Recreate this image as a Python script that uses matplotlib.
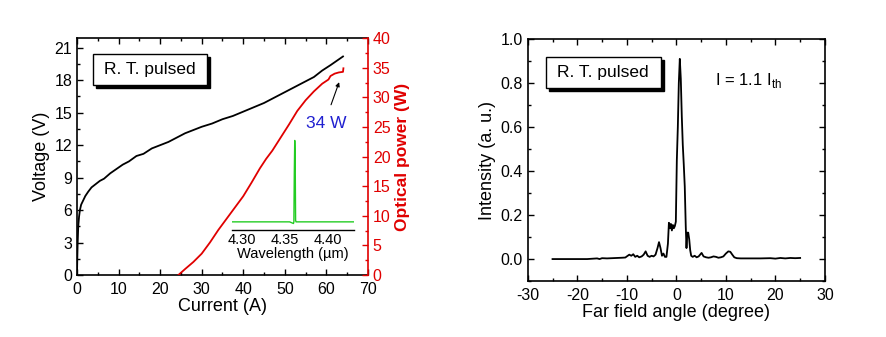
import matplotlib
matplotlib.use("Agg")
import matplotlib.pyplot as plt
import matplotlib.transforms as mtransforms
from matplotlib.patches import Rectangle
from matplotlib.ticker import MultipleLocator

plt.rcParams['font.family'] = ['Liberation Sans', 'DejaVu Sans']
plt.rcParams['axes.unicode_minus'] = False

# ---- data: L-I-V ----
current_v = [0, 0.05, 0.15, 0.3, 0.5, 0.7, 1.0, 1.5, 2.0, 2.7, 3.5, 4.5, 5.5, 6.5, 8, 9.5, 11,
             12.5, 14.3, 16, 18, 20, 22, 24, 26, 28, 30, 32.5, 35, 37.5, 40, 42.5, 45, 47.5,
             50, 52.5, 55, 57, 59, 61, 62.5, 64]
voltage = [0, 1.1, 2.8, 4.5, 5.4, 6.0, 6.5, 6.9, 7.3, 7.7, 8.1, 8.4, 8.7, 8.9, 9.4, 9.8, 10.2,
           10.5, 11.0, 11.2, 11.7, 12.0, 12.3, 12.7, 13.1, 13.4, 13.7, 14.0, 14.4, 14.7, 15.1,
           15.5, 15.9, 16.4, 16.9, 17.4, 17.9, 18.3, 18.9, 19.4, 19.8, 20.2]
current_p = [24.4, 26, 28, 30, 32, 34, 36, 38, 40, 42, 44, 45.5, 47, 49, 51, 53, 55, 57, 59,
             60.5, 61, 62, 63, 64, 64.1]
power = [0, 1.0, 2.2, 3.6, 5.5, 7.6, 9.5, 11.4, 13.3, 15.6, 18.0, 19.6, 21.0, 23.2, 25.4,
         27.7, 29.5, 31.0, 32.3, 33.0, 33.6, 34.0, 34.2, 34.3, 34.9]

# ---- data: spectrum inset ----
wavelength = [4.288, 4.355, 4.3595, 4.3600, 4.3605, 4.3610, 4.3615, 4.3620, 4.3625, 4.430]
spec_int = [0, 0, -0.02, 0.0, 0.6, 1.0, 0.8, 0.02, 0, 0]

# ---- data: far field ----
ff_angle = [-25, -22, -18, -16, -15.5, -15, -14, -12, -11, -10.3, -10, -9.5, -9.1, -8.7, -8.3,
            -7.9, -7.5, -7.0, -6.6, -6.2, -5.8, -5.4, -5.0, -4.6, -4.2, -3.8, -3.5, -3.2, -2.9,
            -2.6, -2.3, -2.0, -1.7, -1.5, -1.3, -1.1, -0.9, -0.7, -0.5, -0.3, -0.1, 0.1, 0.3,
            0.5, 0.7, 0.9, 1.1, 1.3, 1.5, 1.7, 1.9, 2.05, 2.2, 2.4, 2.6, 2.8, 3.0, 3.3, 3.7,
            4.1, 4.5, 4.8, 5.1, 5.5, 6.0, 6.5, 7.0, 7.5, 8.0, 8.5, 9.0, 9.5, 10.0, 10.5, 10.9,
            11.3, 11.7, 12.2, 13, 15, 17, 19, 20, 21, 22, 23, 24, 25]
ff_int = [0.0, 0.0, 0.0, 0.003, 0.0, 0.004, 0.003, 0.005, 0.006, 0.007, 0.012, 0.02, 0.015,
          0.022, 0.01, 0.015, 0.008, 0.012, 0.02, 0.035, 0.015, 0.01, 0.015, 0.012, 0.02, 0.05,
          0.077, 0.05, 0.015, 0.025, 0.01, 0.01, 0.07, 0.165, 0.14, 0.16, 0.13, 0.155, 0.14,
          0.15, 0.17, 0.45, 0.6, 0.8, 0.91, 0.82, 0.65, 0.52, 0.43, 0.33, 0.15, 0.05, 0.12,
          0.12, 0.09, 0.04, 0.015, 0.01, 0.015, 0.008, 0.012, 0.02, 0.028, 0.012, 0.008, 0.006,
          0.008, 0.012, 0.01, 0.006, 0.008, 0.012, 0.025, 0.035, 0.033, 0.02, 0.008, 0.004,
          0.003, 0.003, 0.003, 0.004, 0.002, 0.005, 0.003, 0.005, 0.004, 0.005]

RED = '#e00000'
TICK_FS = 11.5
LABEL_FS = 13
fig = plt.figure(figsize=(8.87, 3.37), dpi=100)

def style_ticks(ax, **kw):
    ax.tick_params(which='major', direction='in', length=4, width=1.0, labelsize=TICK_FS, **kw)
    ax.tick_params(which='minor', direction='in', length=2.5, width=1.0, **kw)
    ax.tick_params(axis='x', which='major', pad=5)

def shadow_box(ax, x0, y0, x1, y1, s):
    shadow_tr = ax.transAxes + mtransforms.ScaledTranslation(3 / 100, -3 / 100,
                                                                fig.dpi_scale_trans)
    ax.add_patch(Rectangle((x0, y0), x1 - x0, y1 - y0, transform=shadow_tr,
                           fc='black', ec='black', lw=1.0, zorder=9, clip_on=False))
    ax.add_patch(Rectangle((x0, y0), x1 - x0, y1 - y0, transform=ax.transAxes,
                           fc='white', ec='black', lw=1.0, zorder=10, clip_on=False))
    ax.text((x0 + x1) / 2, (y0 + y1) / 2, s, transform=ax.transAxes, ha='center',
            va='center', fontsize=12.5, zorder=11)

# ---- left panel ----
ax1 = fig.add_axes([0.0868, 0.184, 0.328, 0.703])
ax1.plot(current_v, voltage, color='black', lw=1.3)
ax1.set_xlim(0, 70)
ax1.set_ylim(0, 21.9)
ax1.xaxis.set_major_locator(MultipleLocator(10))
ax1.xaxis.set_minor_locator(MultipleLocator(5))
ax1.yaxis.set_major_locator(MultipleLocator(3))
ax1.yaxis.set_minor_locator(MultipleLocator(1.5))
style_ticks(ax1, left=True, bottom=True, top=True)
ax1.set_xlabel('Current (A)', fontsize=LABEL_FS, labelpad=1)
ax1.set_ylabel('Voltage (V)', fontsize=LABEL_FS, labelpad=3)
for sp in ax1.spines.values():
    sp.set_linewidth(1.2)
ax1.spines['right'].set_visible(False)
shadow_box(ax1, 0.055, 0.802, 0.447, 0.932, 'R. T. pulsed')

ax2 = ax1.twinx()
ax2.plot(current_p, power, color=RED, lw=1.3)
ax2.set_ylim(0, 40)
ax2.yaxis.set_major_locator(MultipleLocator(5))
ax2.yaxis.set_minor_locator(MultipleLocator(2.5))
ax2.tick_params(which='major', direction='in', length=4, width=1.0, labelsize=TICK_FS,
                colors=RED)
ax2.tick_params(which='minor', direction='in', length=2.5, width=1.0, colors=RED)
ax2.spines['right'].set_color(RED)
ax2.spines['right'].set_linewidth(1.2)
for k in ('left', 'top', 'bottom'):
    ax2.spines[k].set_visible(False)
ax2.set_ylabel('Optical power (W)', color=RED, fontsize=12.5, fontweight='bold', labelpad=3)
ax2.annotate('', xy=(63.3, 33.0), xytext=(60.9, 28.3),
             arrowprops=dict(arrowstyle='-|>', color='black', lw=0.8, mutation_scale=6))
ax2.text(59.9, 25.6, '34 W', color='#2020d0', fontsize=12.5, ha='center', va='center')

# inset
axi = fig.add_axes([0.2616, 0.3175, 0.1375, 0.273])
axi.patch.set_alpha(0)
axi.plot(wavelength, spec_int, color='#22cc22', lw=1.0)
axi.set_xlim(4.288, 4.430)
axi.set_ylim(-0.1, 1.03)
axi.set_xticks([4.30, 4.35, 4.40])
axi.set_xticklabels(['4.30', '4.35', '4.40'])
axi.set_yticks([])
axi.tick_params(axis='x', length=0, pad=2, labelsize=10.5)
for k in ('left', 'top', 'right'):
    axi.spines[k].set_visible(False)
axi.spines['bottom'].set_linewidth(1.0)
axi.set_xlabel('Wavelength (\u00b5m)', fontsize=10.5, labelpad=0)

# ---- right panel ----
ax3 = fig.add_axes([0.595, 0.166, 0.335, 0.718])
ax3.plot(ff_angle, ff_int, color='black', lw=1.3)
ax3.set_xlim(-30, 30)
ax3.set_ylim(-0.1, 1.0)
ax3.xaxis.set_major_locator(MultipleLocator(10))
ax3.xaxis.set_minor_locator(MultipleLocator(5))
ax3.yaxis.set_minor_locator(MultipleLocator(0.1))
ax3.set_yticks([0.0, 0.2, 0.4, 0.6, 0.8, 1.0])
ax3.set_yticklabels(['0.0', '0.2', '0.4', '0.6', '0.8', '1.0'])
style_ticks(ax3, left=True, bottom=True, top=True, right=True)
for sp in ax3.spines.values():
    sp.set_linewidth(1.2)
ax3.set_xlabel('Far field angle (degree)', fontsize=LABEL_FS, labelpad=1)
ax3.set_ylabel('Intensity (a. u.)', fontsize=LABEL_FS, labelpad=3)
shadow_box(ax3, 0.0606, 0.7975, 0.4478, 0.9256, 'R. T. pulsed')
ax3.text(7.8, 0.81, 'I = 1.1 I$_{\\mathregular{th}}$', fontsize=12, ha='left', va='center')

fig.savefig('out.png', dpi=100)
